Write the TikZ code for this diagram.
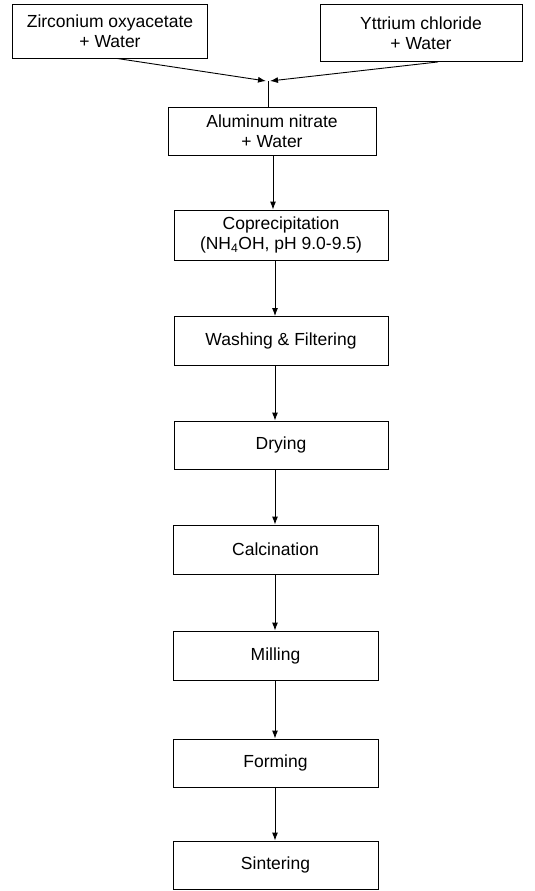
\documentclass[tikz,border=0pt]{standalone}
\usepackage{fontspec}
\setmainfont{Liberation Sans}
\usetikzlibrary{arrows.meta}

\begin{document}
\begin{tikzpicture}[x=1pt,y=-1pt,
    stepbox/.style={draw, line width=0.9pt, align=center, inner sep=0pt,
      font=\fontsize{17.5}{20}\selectfont, minimum width=205pt, minimum height=49pt},
    flow/.style={line width=0.9pt, -{Latex[length=8pt,width=6pt]}}]
      \useasboundingbox (0,0) rectangle (535,891);

      % Starting solutions
      \node[stepbox, minimum width=195pt, minimum height=54pt] (zirc) at (110,31) {Zirconium oxyacetate\\+ Water};
      \node[stepbox, minimum width=202pt, minimum height=57pt] (ytt) at (421,33) {Yttrium chloride\\+ Water};
      \coordinate (join) at (268,81);

      % Process chain
      \node[stepbox, minimum width=208pt, minimum height=48pt] (alum) at (272,131) {Aluminum nitrate\\+ Water};
      \node[stepbox, minimum width=214pt, minimum height=50pt] (copr) at (281,235) {Coprecipitation\\(NH\textsubscript{4}OH, pH 9.0-9.5)};
      \node[stepbox, minimum width=214pt] (wash) at (281,341) {Washing \& Filtering};
      \node[stepbox, minimum width=214pt, minimum height=48pt] (dry) at (281,445) {Drying};
      \node[stepbox] (calc) at (275.5,549.5) {Calcination};
      \node[stepbox] (mill) at (275.5,655.5) {Milling};
      \node[stepbox, minimum height=48pt] (form) at (275.5,763) {Forming};
      \node[stepbox, minimum height=48pt] (sint) at (275.5,865) {Sintering};
      \coordinate (axis) at (275,0);

      % Mixing
      \draw[flow] ([xshift=7pt]zirc.south) -- ([xshift=-2pt]join);
      \draw[flow] ([xshift=17pt]ytt.south) -- ([xshift=2pt]join);
      \draw[line width=0.9pt] (join) -- (join |- alum.north);

      \draw[flow] (alum.south -| 273,0) -- (copr.north -| 273,0);
      \foreach \a/\b in {copr/wash, wash/dry, dry/calc, calc/mill, mill/form, form/sint}
        \draw[flow] (\a.south -| axis) -- (\b.north -| axis);
    \end{tikzpicture}
\end{document}
